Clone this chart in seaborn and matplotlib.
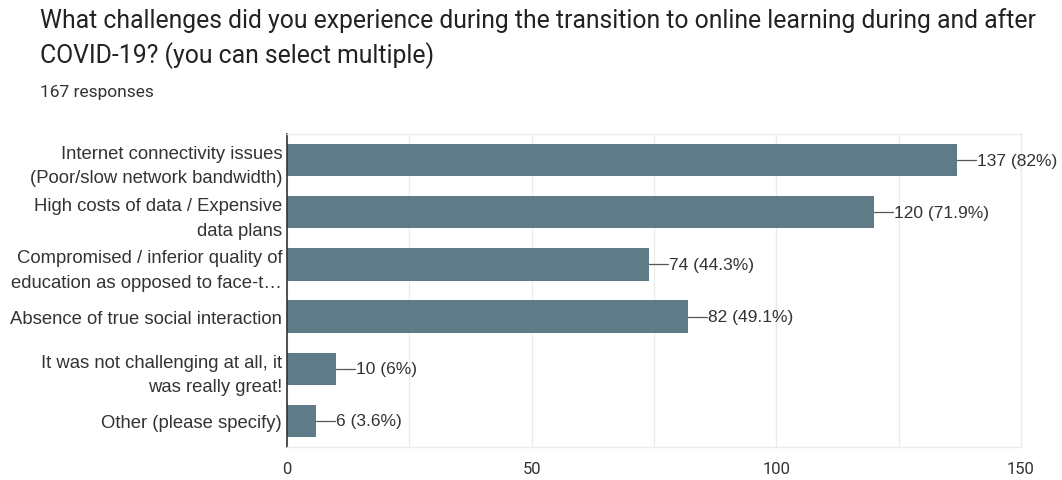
import matplotlib
matplotlib.use("Agg")
import matplotlib.pyplot as plt
import seaborn as sns
import pandas as pd

categories = [
    "Internet connectivity issues\n(Poor/slow network bandwidth)",
    "High costs of data / Expensive\ndata plans",
    "Compromised / inferior quality of\neducation as opposed to face-t\u2026",
    "Absence of true social interaction",
    "It was not challenging at all, it\nwas really great!",
    "Other (please specify)",
]
counts = [137, 120, 74, 82, 10, 6]
percents = ["82%", "71.9%", "44.3%", "49.1%", "6%", "3.6%"]
xticks = [0, 50, 100, 150]

title_lines = [
    "What challenges did you experience during the transition to online learning during and after",
    "COVID-19? (you can select multiple)",
]
subtitle = "167 responses"

sns.set_theme(style="white")
plt.rcParams["font.family"] = ["Liberation Sans", "DejaVu Sans"]

df = pd.DataFrame({"category": categories, "count": counts})

fig = plt.figure(figsize=(10.62, 4.81), dpi=100)
ax = fig.add_axes([287 / 1062, 33 / 481, 734 / 1062, 313 / 481])

bar_color = "#5f7b88"
sns.barplot(data=df, x="count", y="category", orient="h", color=bar_color,
            width=0.62, saturation=1, ax=ax, edgecolor="none")

ax.set_xlim(0, 150)
ax.set_ylim(len(categories) - 0.5, -0.5)
ax.set_xticks(xticks)
ax.set_xticklabels([str(t) for t in xticks], fontsize=12, color="#333333",
                   family="Roboto")
ax.tick_params(axis="x", length=0, pad=10)
ax.tick_params(axis="y", length=0, pad=3.5)
ax.set_yticks(range(len(categories)))
ax.set_yticklabels(categories, fontsize=13.3, color="#333333", linespacing=1.57)
ax.set_xlabel("")
ax.set_ylabel("")

for g in range(0, 151, 25):
    ax.axvline(g, color="#ebebeb", lw=1, zorder=0)
for side in ["top", "right", "bottom"]:
    ax.spines[side].set_color("#ebebeb")
    ax.spines[side].set_linewidth(1)
ax.spines["left"].set_color("#333333")
ax.spines["left"].set_linewidth(1.2)

# value annotations with a short leader line
for i, (c, p) in enumerate(zip(counts, percents)):
    ax.plot([c, c + 3.9], [i, i], color="#555555", lw=0.9, zorder=3,
            clip_on=False)
    ax.text(c + 4.1, i, f"{c} ({p})", va="center", ha="left",
            fontsize=12.5, color="#333333")

fig.text(40 / 1062, 1 - 28 / 481, title_lines[0], fontsize=17.8, family="Roboto",
         color="#222222", va="baseline", ha="left")
fig.text(40 / 1062, 1 - 63 / 481, title_lines[1], fontsize=17.8, family="Roboto",
         color="#222222", va="baseline", ha="left")
fig.text(40 / 1062, 1 - 97 / 481, subtitle, fontsize=12.5, family="Roboto",
         color="#333333", va="baseline", ha="left")

fig.savefig("out.png", dpi=100)
